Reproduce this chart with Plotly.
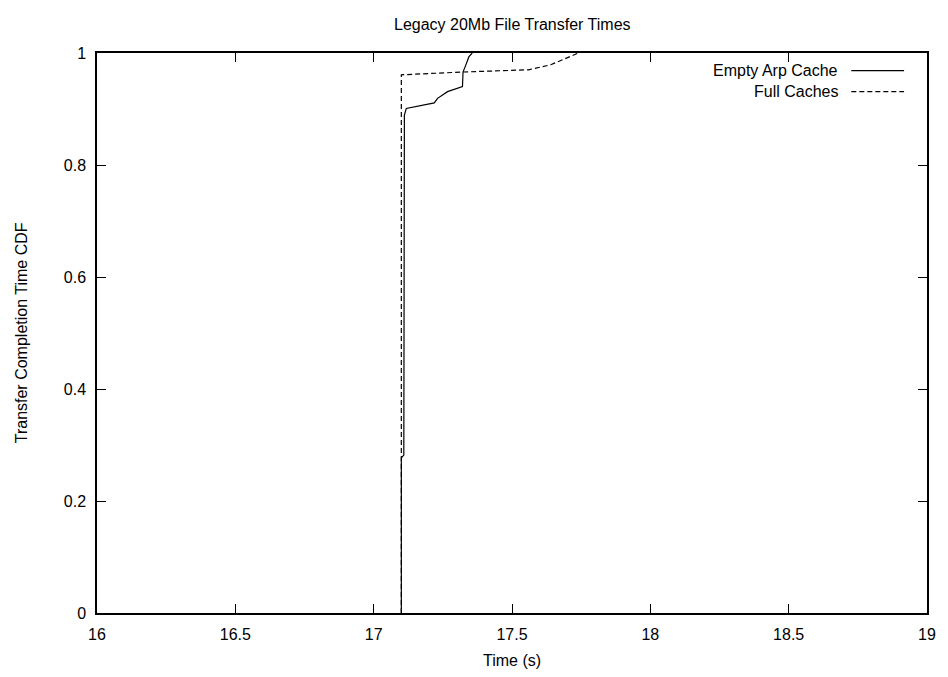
import plotly.graph_objects as go

# Data
empty_arp_x = [17.1, 17.1, 17.109, 17.111, 17.118, 17.219, 17.231, 17.267, 17.321, 17.323, 17.335, 17.344, 17.356]
empty_arp_y = [0.0, 0.277, 0.282, 0.889, 0.901, 0.911, 0.919, 0.931, 0.940, 0.966, 0.981, 0.993, 1.0]

full_caches_x = [17.1, 17.1, 17.32, 17.56, 17.64, 17.69, 17.74]
full_caches_y = [0.0, 0.961, 0.966, 0.970, 0.979, 0.989, 1.0]

series_names = ["Empty Arp Cache", "Full Caches"]
x_ticks = [16, 16.5, 17, 17.5, 18, 18.5, 19]
y_ticks = [0, 0.2, 0.4, 0.6, 0.8, 1]

FONT = "Liberation Sans, Arial, Helvetica, sans-serif"

fig = go.Figure()
fig.add_trace(go.Scatter(x=empty_arp_x, y=empty_arp_y, mode="lines", name=series_names[0],
                         line=dict(color="black", width=1.2), showlegend=False))
fig.add_trace(go.Scatter(x=full_caches_x, y=full_caches_y, mode="lines", name=series_names[1],
                         line=dict(color="black", width=1.2, dash="5px,3px"), showlegend=False))

axis_common = dict(showgrid=False, zeroline=False, showline=True, linecolor="black", linewidth=1.5,
                   mirror="ticks", ticks="inside", ticklen=9, tickwidth=1, tickcolor="black",
                   tickfont=dict(family=FONT, size=16, color="black"))

fig.update_xaxes(range=[16, 19], tickvals=x_ticks, ticklabelstandoff=6, **axis_common)
fig.update_yaxes(range=[0, 1], tickvals=y_ticks, ticklabelstandoff=6, **axis_common)

annotations = [
    dict(text="Legacy 20Mb File Transfer Times", x=0.5, y=(613 - 25) / 560, xref="paper", yref="paper",
         showarrow=False, font=dict(family=FONT, size=16, color="black"), xanchor="center", yanchor="middle"),
    dict(text="Time (s)", x=0.5, y=(613 - 660) / 560, xref="paper", yref="paper",
         showarrow=False, font=dict(family=FONT, size=16, color="black"), xanchor="center", yanchor="middle"),
    dict(text="Transfer Completion Time CDF", x=(21 - 97) / 833, y=0.5, xref="paper", yref="paper",
         showarrow=False, textangle=-90, font=dict(family=FONT, size=16, color="black"),
         xanchor="center", yanchor="middle"),
]
shapes = []
legend_rows = [(70.7, None), (91.7, "5px,3px")]
for name, (py, dash) in zip(series_names, legend_rows):
    yp = (613 - py) / 560
    annotations.append(dict(text=name, x=(843 - 97) / 833, y=yp, xref="paper", yref="paper",
                            showarrow=False, font=dict(family=FONT, size=16, color="black"),
                            xanchor="right", yanchor="middle"))
    line = dict(color="black", width=1.2)
    if dash:
        line["dash"] = dash
    shapes.append(dict(type="line", xref="paper", yref="paper", x0=(854 - 97) / 833, x1=(907 - 97) / 833,
                       y0=yp, y1=yp, line=line))

fig.update_layout(
    width=948, height=677,
    margin=dict(l=97, r=18, t=53, b=64),
    paper_bgcolor="white", plot_bgcolor="white",
    font=dict(family=FONT, size=16, color="black"),
    annotations=annotations, shapes=shapes,
    showlegend=False,
)

fig.write_html("out.html", config={"displayModeBar": False},
               post_script="document.body.style.margin='0px';document.body.style.overflow='hidden';")
